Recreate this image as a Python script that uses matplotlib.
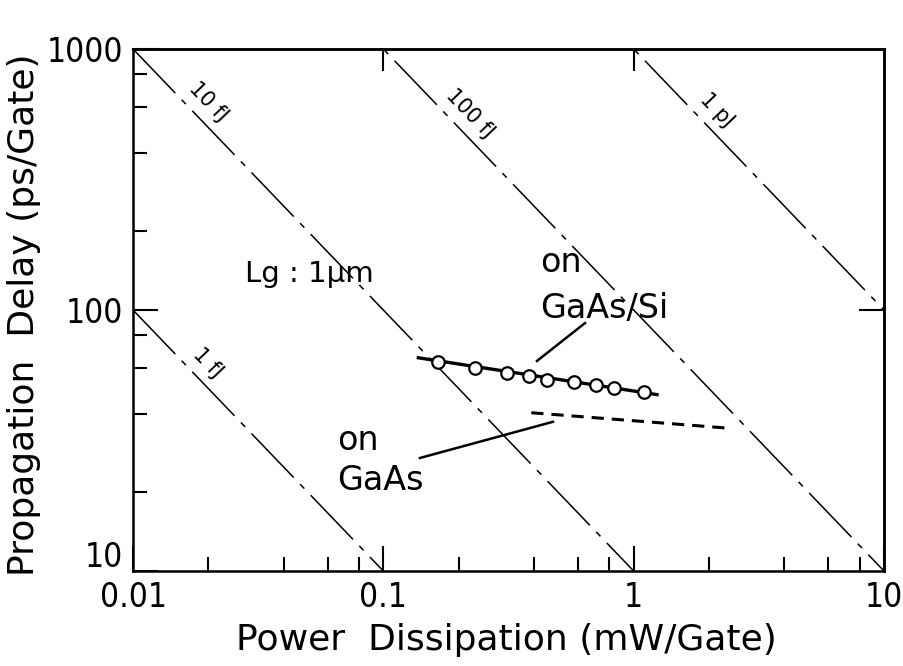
import numpy as np
import matplotlib
matplotlib.use("Agg")
import matplotlib.pyplot as plt
import matplotlib.transforms as mtransforms
from matplotlib import font_manager
from matplotlib.font_manager import FontProperties

# --- data -------------------------------------------------------------
# constant switching-energy lines (fJ = mW * ps)
energy_fj = [1, 10, 100, 1000]
energy_labels = ["1 fJ", "10 fJ", "100 fJ", "1 pJ"]
energy_label_x = [0.0178, 0.0178, 0.198, 1.92]

# measured delay vs power, GaAs-on-Si MESFET ring oscillator
gaas_si_power = [0.165, 0.233, 0.313, 0.381, 0.449, 0.577, 0.705, 0.834, 1.10]
gaas_si_delay = [63.0, 59.8, 57.4, 56.0, 54.1, 52.8, 51.6, 50.1, 48.7]
gaas_si_fit_power = [0.138, 1.24]
gaas_si_fit_delay = [65.6, 47.4]

# reference curve on GaAs substrate
gaas_power = [0.39, 2.35]
gaas_delay = [40.4, 35.3]

x_ticks = [0.01, 0.1, 1, 10]
x_ticklabels = ["0.01", "0.1", "1", "10"]
y_ticks = [10, 100, 1000]
y_ticklabels = ["10", "100", "1000"]


# --- fonts ------------------------------------------------------------
def find_narrow_font():
    fonts = font_manager.fontManager.ttflist
    for key in ("LiberationSansNarrow-Regular", "DejaVuSansCondensed.",
                "RobotoCondensed-Regular", "OpenSans_Condensed-Regular",
                "OpenSansCondensed"):
        for f in fonts:
            if key.lower() in f.fname.lower().replace(" ", ""):
                return FontProperties(fname=f.fname)
    for f in fonts:
        n = f.fname.lower()
        if ("narrow" in n or "condensed" in n) and "bold" not in n \
                and "italic" not in n and "oblique" not in n:
            return FontProperties(fname=f.fname)
    return FontProperties(family="DejaVu Sans")


narrow = find_narrow_font()
plt.rcParams["font.family"] = ["DejaVu Sans"]

fig = plt.figure(figsize=(9.04, 6.66), dpi=100)
ax = fig.add_axes([133 / 904, 1 - 571 / 666, (884 - 133) / 904, (571 - 49) / 666])
ax.set_xscale("log")
ax.set_yscale("log")
ax.set_xlim(0.01, 10)
ax.set_ylim(10, 1000)

for s in ax.spines.values():
    s.set_linewidth(1.8)

# energy lines
xs = np.logspace(-2, 1, 200)
dash_dot = (0, (40, 6, 4, 6))
for e in energy_fj:
    ax.plot(xs, e / xs, color="black", lw=1.1, linestyle=dash_dot, zorder=2)

# measured data
ax.plot(gaas_si_fit_power, gaas_si_fit_delay, color="black", lw=2.4, zorder=3)
ax.plot(gaas_si_power, gaas_si_delay, linestyle="none", marker="o", ms=9,
        mfc="white", mec="black", mew=1.6, zorder=4)
ax.plot(gaas_power, gaas_delay, color="black", lw=2.2,
        linestyle=(0, (4, 2.6)), zorder=3)

# ticks
ax.set_xticks(x_ticks)
ax.set_xticklabels(x_ticklabels)
ax.set_yticks(y_ticks)
ax.set_yticklabels(y_ticklabels)
ax.xaxis.set_minor_locator(matplotlib.ticker.LogLocator(base=10, subs=[2, 4, 6, 8]))
ax.yaxis.set_minor_locator(matplotlib.ticker.LogLocator(base=10, subs=[2, 4, 6, 8]))
ax.xaxis.set_minor_formatter(matplotlib.ticker.NullFormatter())
ax.yaxis.set_minor_formatter(matplotlib.ticker.NullFormatter())
ax.tick_params(which="major", direction="in", length=18, width=1.5, pad=7)
ax.tick_params(which="minor", direction="in", length=10, width=1.5)
for lab in ax.get_xticklabels() + ax.get_yticklabels():
    lab.set_fontproperties(narrow)
    lab.set_fontsize(24)
# lowest y label sits just above the corner
ylabs = ax.get_yticklabels()
ylabs[0].set_transform(ylabs[0].get_transform() +
                       mtransforms.ScaledTranslation(0, 12 / 72, fig.dpi_scale_trans))

# secondary ticks on top and right (inner decades only)
top = ax.secondary_xaxis("top")
top.set_xticks([0.1, 1])
top.tick_params(direction="in", length=16, width=1.5, labeltop=False)
top.xaxis.set_minor_locator(matplotlib.ticker.NullLocator())
right = ax.secondary_yaxis("right")
right.set_yticks([100])
right.tick_params(direction="in", length=18, width=1.5, labelright=False)
right.yaxis.set_minor_locator(matplotlib.ticker.NullLocator())
for s in list(top.spines.values()) + list(right.spines.values()):
    s.set_linewidth(1.8)

ax.set_xlabel("Power  Dissipation (mW/Gate)", fontsize=26)
ax.set_ylabel("Propagation  Delay (ps/Gate)", fontsize=26)
ax.xaxis.set_label_coords((506 - 133) / 751, -(640 - 571) / 522)
ax.yaxis.set_label_coords(-(133 - 24) / 751, (571 - 315) / 522)
ax.xaxis.label.set_va("center")
ax.yaxis.label.set_va("center")

# rotated energy labels along the lines
fig.canvas.draw()
p0 = ax.transData.transform((0.01, 1000))
p1 = ax.transData.transform((10, 1))
angle = np.degrees(np.arctan2(p1[1] - p0[1], p1[0] - p0[0]))
for e, lab, lx in zip(energy_fj, energy_labels, energy_label_x):
    ax.annotate(lab, (lx, e / lx), xytext=(9, 9), textcoords="offset points",
                rotation=angle, rotation_mode="anchor", ha="center", va="center",
                fontsize=15, zorder=5)

# annotations
ax.text(0.028, 128, "Lg : 1μm", fontsize=21, va="baseline", ha="left")
ax.text(0.423, 139.9, "on", fontsize=24, va="baseline", ha="left")
ax.text(0.423, 93.1, "GaAs/Si", fontsize=24, va="baseline", ha="left")
ax.text(0.0654, 29.1, "on", fontsize=24, va="baseline", ha="left")
ax.text(0.0654, 20.4, "GaAs", fontsize=24, va="baseline", ha="left")
ax.plot([0.639, 0.411], [89.1, 63.8], color="black", lw=1.8)
ax.plot([0.140, 0.476], [27.1, 37.3], color="black", lw=1.8)

fig.savefig("out.png", dpi=100)
